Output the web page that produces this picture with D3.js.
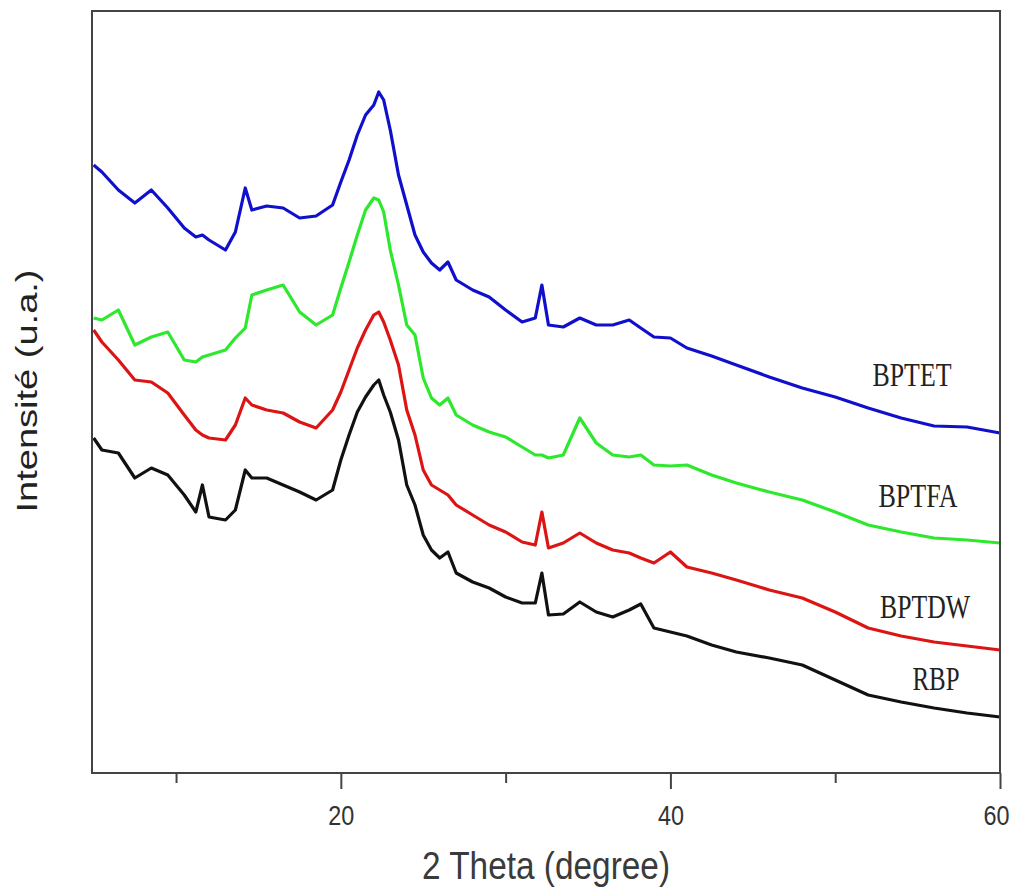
<!DOCTYPE html>
<html>
<head>
<meta charset="utf-8">
<script src="https://cdn.jsdelivr.net/npm/d3@7"></script>
<style>
  body { margin: 0; background: #fff; }
  svg { display: block; }
</style>
</head>
<body>
<svg id="xrd"></svg>
<script>
// 2 theta positions (degree) where the patterns were read
const theta = [5, 5.5, 6.5, 7.5, 8.5, 9.5, 10.5, 11.2, 11.6, 12,
  13, 13.6, 14.2, 14.6, 15.5, 16.5, 17.5, 18.5, 19.5, 20,
  20.5, 21, 21.5, 22, 22.3, 22.6, 23, 23.5, 24, 24.5,
  25, 25.5, 26, 26.5, 27, 28, 29, 30, 31, 31.8,
  32.2, 32.6, 33.5, 34.5, 35.5, 36.5, 37.5, 38.2, 39, 40,
  41, 42.5, 44, 46, 48, 50, 52, 54, 56, 58, 60];

// intensities (u.a.), curves stacked with offsets as in the figure
const bptet = [608, 601, 583, 570, 583, 565, 545, 536, 538, 533,
  523, 541, 585, 563, 567, 565, 555, 557, 568, 591,
  613, 638, 658, 668, 681, 673, 643, 598, 568, 538,
  521, 510, 503, 511, 493, 483, 476, 463, 451, 455,
  488, 448, 446, 455, 448, 448, 453, 445, 436, 435,
  425, 417, 408, 396, 385, 376, 365, 355, 347, 346, 340];

const bptfa = [455, 453, 463, 428, 436, 441, 413, 411, 416, 418,
  423, 435, 445, 478, 483, 488, 461, 448, 458, 485,
  511, 538, 563, 575, 573, 561, 523, 488, 448, 438,
  395, 375, 368, 375, 358, 348, 341, 336, 326, 318,
  318, 315, 318, 355, 330, 318, 316, 318, 308, 307,
  308, 298, 290, 281, 273, 261, 248, 241, 235, 233, 230];

const bptdw = [443, 431, 413, 393, 391, 380, 358, 343, 338, 335,
  333, 348, 375, 368, 363, 360, 351, 345, 363, 381,
  403, 425, 443, 458, 461, 451, 433, 408, 363, 338,
  303, 288, 283, 278, 268, 258, 248, 241, 231, 228,
  261, 225, 230, 240, 230, 223, 220, 215, 210, 221,
  206, 200, 193, 183, 175, 161, 145, 137, 131, 127, 123];

const rbp = [335, 323, 320, 295, 305, 298, 278, 261, 288, 256,
  253, 263, 303, 295, 295, 288, 281, 273, 283, 313,
  338, 361, 376, 388, 393, 378, 361, 333, 288, 268,
  238, 223, 215, 221, 200, 191, 185, 176, 170, 170,
  200, 158, 159, 171, 161, 156, 163, 169, 145, 141,
  137, 128, 121, 115, 108, 93, 78, 71, 65, 60, 56];

const seriesNames = ['BPTET', 'BPTFA', 'BPTDW', 'RBP'];
const majorTicks = [20, 40, 60];
const minorTicks = [10, 30, 50];

var width = 1015;
var height = 888;
// plot box (avoid "top", it clashes with window.top)
var boxLeft = 92, boxRight = 1000, boxTop = 11, boxBottom = 773;

var svg = d3.select('#xrd')
  .attr('width', width)
  .attr('height', height);

var x = d3.scaleLinear().domain([4.9, 60]).range([boxLeft, boxRight]);
var y = d3.scaleLinear().domain([0, 762]).range([boxBottom, boxTop]);

const series = [
  { name: seriesNames[0], values: bptet, color: '#1010cc', label: { x: 912, y: 386, len: 79 } },
  { name: seriesNames[1], values: bptfa, color: '#2ee82e', label: { x: 918, y: 507, len: 79 } },
  { name: seriesNames[2], values: bptdw, color: '#dd1414', label: { x: 925, y: 618, len: 90 } },
  { name: seriesNames[3], values: rbp, color: '#111111', label: { x: 936, y: 690, len: 47 } },
];

var line = d3.line()
  .x((d) => x(d[0]))
  .y((d) => y(d[1]));

// curves
series.forEach(function (s) {
  const pts = theta.map((t, i) => [t, s.values[i]]);
  svg.append('path')
    .datum(pts)
    .attr('fill', 'none')
    .attr('stroke', s.color)
    .attr('stroke-width', 3.2)
    .attr('stroke-linejoin', 'round')
    .attr('d', line);

  svg.append('text')
    .attr('x', s.label.x)
    .attr('y', s.label.y)
    .attr('text-anchor', 'middle')
    .attr('font-family', '"Liberation Serif", "DejaVu Serif", serif')
    .attr('font-size', 33)
    .attr('fill', '#222')
    .attr('textLength', s.label.len)
    .attr('lengthAdjust', 'spacingAndGlyphs')
    .text(s.name);
});

// frame
svg.append('rect')
  .attr('x', boxLeft)
  .attr('y', boxTop)
  .attr('width', boxRight - boxLeft)
  .attr('height', boxBottom - boxTop)
  .attr('fill', 'none')
  .attr('stroke', '#444')
  .attr('stroke-width', 2);

// bottom ticks
var gMajor = svg.append('g')
  .attr('transform', `translate(0,${boxBottom})`)
  .call(d3.axisBottom(x).tickValues(majorTicks).tickSize(16).tickFormat(d3.format('d')));
var gMinor = svg.append('g')
  .attr('transform', `translate(0,${boxBottom})`)
  .call(d3.axisBottom(x).tickValues(minorTicks).tickSize(10).tickFormat(''));

[gMajor, gMinor].forEach(function (g) {
  g.select('.domain').remove();
  g.selectAll('.tick line').attr('stroke', '#444').attr('stroke-width', 2);
});

gMajor.selectAll('.tick text')
  .attr('y', 52)
  .attr('dy', 0)
  .attr('font-family', '"Liberation Sans", Arial, sans-serif')
  .attr('font-size', 28)
  .attr('fill', '#333')
  .attr('textLength', 26)
  .attr('lengthAdjust', 'spacingAndGlyphs');
// last label sits right at the page edge
gMajor.selectAll('.tick text').filter((d) => d === 60).attr('dx', -4);

// axis titles
svg.append('text')
  .attr('x', 546)
  .attr('y', 879)
  .attr('text-anchor', 'middle')
  .attr('font-family', '"Liberation Sans", Arial, sans-serif')
  .attr('font-size', 38)
  .attr('fill', '#3a3a3a')
  .attr('textLength', 248)
  .attr('lengthAdjust', 'spacingAndGlyphs')
  .text('2 Theta (degree)');

svg.append('text')
  .attr('transform', 'translate(37,391) rotate(-90)')
  .attr('text-anchor', 'middle')
  .attr('font-family', '"Liberation Sans", Arial, sans-serif')
  .attr('font-size', 30)
  .attr('fill', '#222')
  .attr('textLength', 243)
  .attr('lengthAdjust', 'spacingAndGlyphs')
  .text('Intensité (u.a.)');
</script>
</body>
</html>
